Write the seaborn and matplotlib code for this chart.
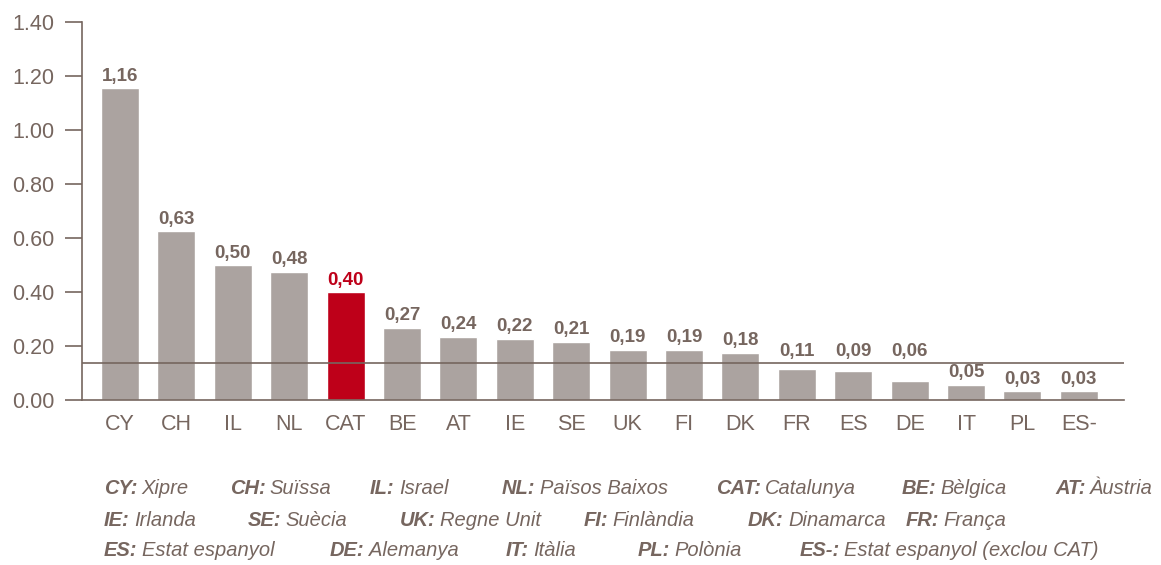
import matplotlib
matplotlib.use('Agg')
import matplotlib.pyplot as plt
import seaborn as sns

codes = ['CY', 'CH', 'IL', 'NL', 'CAT', 'BE', 'AT', 'IE', 'SE', 'UK', 'FI', 'DK',
         'FR', 'ES', 'DE', 'IT', 'PL', 'ES-']
values = [1.155, 0.625, 0.50, 0.475, 0.40, 0.268, 0.234, 0.227, 0.216, 0.186, 0.186, 0.175,
          0.115, 0.107, 0.070, 0.056, 0.033, 0.033]
value_labels = ['1,16', '0,63', '0,50', '0,48', '0,40', '0,27', '0,24', '0,22', '0,21',
                '0,19', '0,19', '0,18', '0,11', '0,09', '0,06', '0,05', '0,03', '0,03']
reference_line = 0.136
yticks = [0.0, 0.2, 0.4, 0.6, 0.8, 1.0, 1.2, 1.4]

legend_rows = [
    [('CY:', 'Xipre'), ('CH:', 'Suïssa'), ('IL:', 'Israel'), ('NL:', 'Països Baixos'),
     ('CAT:', 'Catalunya'), ('BE:', 'Bèlgica'), ('AT:', 'Àustria')],
    [('IE:', 'Irlanda'), ('SE:', 'Suècia'), ('UK:', 'Regne Unit'), ('FI:', 'Finlàndia'),
     ('DK:', 'Dinamarca'), ('FR:', 'França')],
    [('ES:', 'Estat espanyol'), ('DE:', 'Alemanya'), ('IT:', 'Itàlia'), ('PL:', 'Polònia'),
     ('ES-:', 'Estat espanyol (exclou CAT)')],
]
legend_x = [
    [104, 230, 370, 502, 716, 902, 1055],
    [104, 248, 400, 584, 748, 906],
    [104, 330, 506, 638, 800],
]
legend_y = [488, 520, 551]

# Styling
grey = '#aba3a0'
red = '#be0019'
text_col = '#76665f'
highlight = 'CAT'
lifted = ['FR', 'ES', 'DE']  # labels sitting above the reference line

sns.set_style('white')
plt.rcParams['font.family'] = ['Liberation Sans', 'DejaVu Sans']

W, H = 1161, 565
fig = plt.figure(figsize=(W / 100, H / 100), dpi=100)
ax = fig.add_axes([81.7 / W, 1 - 400 / H, (1124 - 81.7) / W, (400 - 22) / H])

palette = {c: (red if c == highlight else grey) for c in codes}
sns.barplot(x=codes, y=values, hue=codes, palette=palette, legend=False,
            width=0.674, saturation=1, ax=ax)

ax.set_xlim(-0.68, 17.8)
ax.set_ylim(0, 1.4)
ax.set_yticks(yticks)
ax.set_yticklabels([f'{t:.2f}' for t in yticks])

for side in ['top', 'right']:
    ax.spines[side].set_visible(False)
for side in ['left', 'bottom']:
    ax.spines[side].set_color(text_col)
    ax.spines[side].set_linewidth(1.2)

ax.tick_params(axis='y', direction='out', length=12.5, width=1.2, color=text_col,
               labelcolor=text_col, labelsize=15.5, pad=7, left=True)
ax.tick_params(axis='x', length=0, labelcolor=text_col, labelsize=15.5, pad=10)

ax.axhline(reference_line, color=text_col, lw=1.2, zorder=3)

for i, (c, v, lab) in enumerate(zip(codes, values, value_labels)):
    y = max(v, reference_line) if c in lifted else v
    ax.annotate(lab, xy=(i, y), xytext=(0, 2.5),
                textcoords='offset points', ha='center', va='bottom',
                fontsize=13.5, fontweight='bold',
                color=(red if c == highlight else text_col))

ax.set_xlabel('')
ax.set_ylabel('')

for row, xs, y in zip(legend_rows, legend_x, legend_y):
    for (code, name), x in zip(row, xs):
        t = fig.text(x / W, 1 - y / H, code, fontsize=14.5, fontweight='bold',
                     style='italic', color=text_col, va='center', ha='left')
        ax.annotate(name, xy=(1, 0.5), xycoords=t, xytext=(3, 0),
                    textcoords='offset points', va='center', ha='left',
                    fontsize=14.5, style='italic', color=text_col,
                    annotation_clip=False)

fig.savefig('out.png', dpi=100)
